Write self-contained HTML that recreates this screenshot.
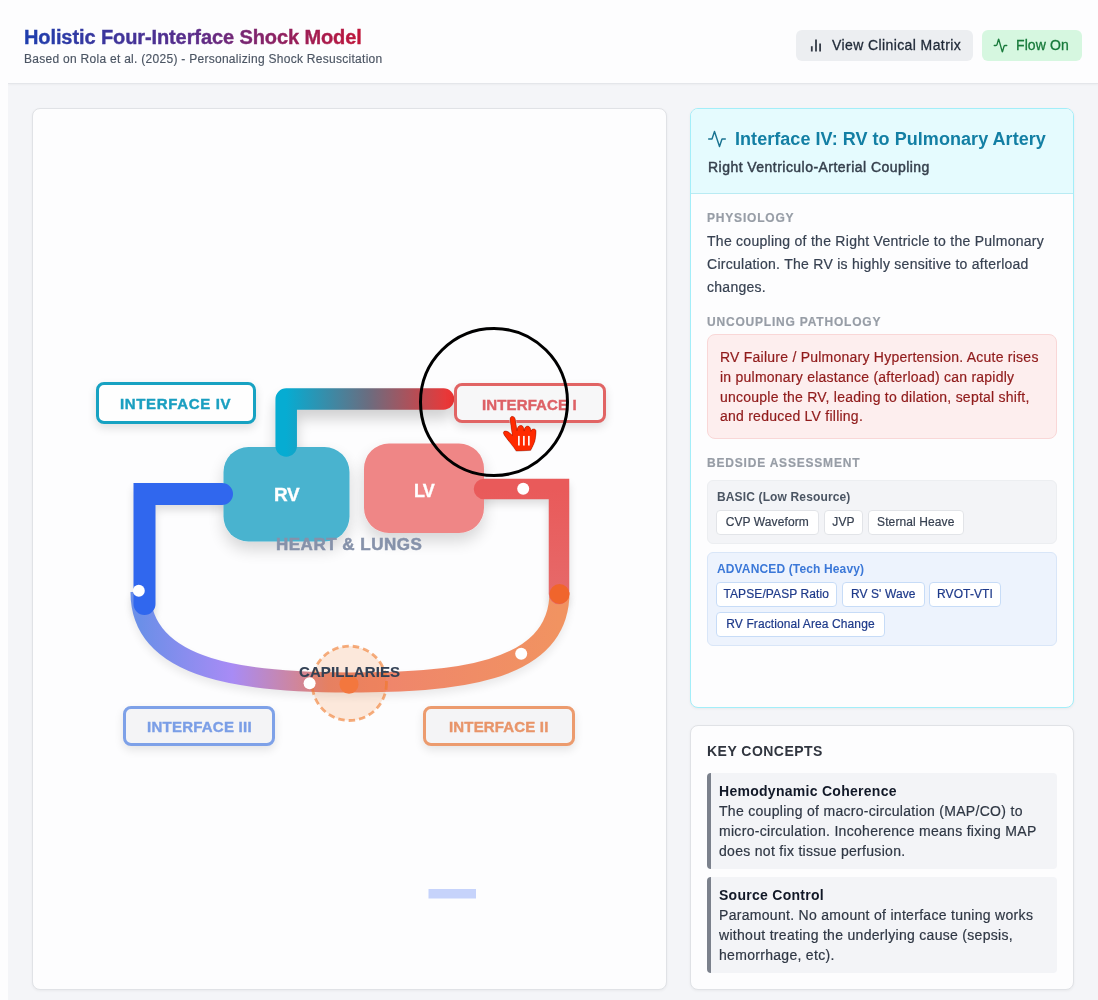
<!DOCTYPE html>
<html>
<head>
<meta charset="utf-8">
<style>
*{box-sizing:border-box;margin:0;padding:0}
html,body{width:1098px;height:1000px;overflow:hidden;background:#fdfdfe;font-family:"Liberation Sans",sans-serif;color:#374151}
.abs{position:absolute}
.t,.chip,.btn span,.title,.sub{will-change:transform}
#hdr{position:absolute;left:0;top:0;width:1098px;height:84px;background:#fdfdfe;z-index:2}
#hdrb{position:absolute;left:8px;top:83px;width:1090px;height:1px;background:#e4e6ea;box-shadow:0 1px 2px rgba(0,0,0,0.05);z-index:3}
#main{position:absolute;left:8px;top:84px;width:1090px;height:916px;background:#f4f5f8}
.title{left:24px;top:22.8px;font-size:20px;line-height:28px;font-weight:bold;white-space:nowrap;background:linear-gradient(to right,#1e3eae 0%,#5a2d8a 50%,#c0163a 100%);-webkit-background-clip:text;background-clip:text;color:transparent;letter-spacing:-0.1px;-webkit-text-stroke:0.4px transparent}
.sub{left:24px;top:50.6px;font-size:12px;line-height:16px;color:#4b5563;white-space:nowrap;letter-spacing:0.28px;-webkit-text-stroke:0.15px #4b5563}
.btn{position:absolute;top:29.5px;height:31px;border-radius:6px}
.btn span{position:absolute;top:5.2px;font-size:14px;line-height:20px;white-space:nowrap}
.card{position:absolute;background:#fdfdfe;border:1px solid #e0e2e6;border-radius:8px;box-shadow:0 1px 3px rgba(0,0,0,0.05)}
.t{position:absolute;white-space:nowrap}
.lab{font-size:12px;line-height:16px;font-weight:bold;color:#979da6;letter-spacing:0.8px;-webkit-text-stroke:0.2px #979da6}
.body14{font-size:14px;line-height:22.85px;color:#374151;letter-spacing:0.27px;-webkit-text-stroke:0.2px #374151}
.chip{position:absolute;height:25px;border:1px solid #e2e4e8;background:#fff;border-radius:4px;font-size:12px;line-height:23px;text-align:center;color:#374151;white-space:nowrap;letter-spacing:0.1px;-webkit-text-stroke:0.2px currentColor}
.chipb{border-color:#c7dcf7;color:#1e3a8a}
</style>
</head>
<body>
<div id="hdr">
  <div class="abs title">Holistic Four-Interface Shock Model</div>
  <div class="abs sub">Based on Rola et al. (2025) - Personalizing Shock Resuscitation</div>
  <div class="btn" style="left:796px;width:177px;background:#eceef1">
    <svg class="abs" style="left:13px;top:9px" width="14" height="14" viewBox="0 0 14 14"><g stroke="#353b47" stroke-width="1.8" stroke-linecap="butt"><line x1="2.8" y1="12.5" x2="2.8" y2="7.2"/><line x1="7" y1="12.5" x2="7" y2="0.6"/><line x1="11.1" y1="12.5" x2="11.1" y2="4.6"/></g></svg>
    <span style="left:36px;color:#1f2937;letter-spacing:0.4px;-webkit-text-stroke:0.3px #1f2937">View Clinical Matrix</span>
  </div>
  <div class="btn" style="left:982px;width:100px;background:#d6f7e0">
    <svg class="abs" style="left:11px;top:8px" width="15" height="15" viewBox="0 0 24 24"><path d="M22 12h-2.48a2 2 0 0 0-1.93 1.46l-2.35 8.36a.25.25 0 0 1-.48 0L9.24 2.18a.25.25 0 0 0-.48 0l-2.35 8.36A2 2 0 0 1 4.49 12H2" fill="none" stroke="#1a7a3c" stroke-width="2.2" stroke-linecap="round" stroke-linejoin="round"/></svg>
    <span style="left:34.3px;color:#177a3a;letter-spacing:0.1px;-webkit-text-stroke:0.3px #177a3a">Flow On</span>
  </div>
</div>
<div id="main"></div>
<div id="hdrb"></div>

<!-- left card -->
<div class="card" style="left:32px;top:108px;width:634.5px;height:882px"></div>

<!-- right card -->
<div class="card" style="left:690px;top:108px;width:384px;height:600px;border-color:#a3eef9;overflow:hidden">
  <div class="abs" style="left:0;top:0;width:384px;height:85px;background:#e5fbfe;border-bottom:1px solid #b9ebf3"></div>
</div>
<div id="rc">
  <svg class="abs" style="left:707px;top:129px" width="20" height="20" viewBox="0 0 24 24"><path d="M22 12h-4l-3 9L9 3l-3 9H2" fill="none" stroke="#1a7391" stroke-width="1.7" stroke-linecap="round" stroke-linejoin="round"/></svg>
  <div class="t" style="left:735px;top:125.2px;font-size:18px;line-height:28px;font-weight:bold;color:#137fa4;letter-spacing:0.05px">Interface IV: RV to Pulmonary Artery</div>
  <div class="t" style="left:707.5px;top:156.8px;font-size:14px;line-height:20px;color:#36404d;letter-spacing:0.46px;-webkit-text-stroke:0.45px #36404d">Right Ventriculo-Arterial Coupling</div>

  <div class="t lab" style="left:707px;top:209.8px">PHYSIOLOGY</div>
  <div class="t body14" style="left:707px;top:230.1px">The coupling of the Right Ventricle to the Pulmonary<br>Circulation. The RV is highly sensitive to afterload<br>changes.</div>

  <div class="t lab" style="left:707px;top:313.8px">UNCOUPLING PATHOLOGY</div>
  <div class="abs" style="left:707px;top:334px;width:350px;height:105px;background:#fdeeee;border:1px solid #f9d7d7;border-radius:8px"></div>
  <div class="t" style="left:720px;top:348px;font-size:14px;line-height:19.75px;color:#901b1b;letter-spacing:0.24px;-webkit-text-stroke:0.2px #901b1b">RV Failure / Pulmonary Hypertension. Acute rises<br>in pulmonary elastance (afterload) can rapidly<br>uncouple the RV, leading to dilation, septal shift,<br>and reduced LV filling.</div>

  <div class="t lab" style="left:707px;top:455.4px">BEDSIDE ASSESSMENT</div>
  <div class="abs" style="left:707px;top:480px;width:350px;height:64px;background:#f3f4f7;border:1px solid #eceef1;border-radius:6px"></div>
  <div class="t" style="left:716.5px;top:488.8px;font-size:12px;line-height:16px;font-weight:bold;color:#4b5563;letter-spacing:0.14px">BASIC (Low Resource)</div>
  <div class="chip" style="left:716px;top:509.5px;width:102.5px">CVP Waveform</div>
  <div class="chip" style="left:823.5px;top:509.5px;width:39px">JVP</div>
  <div class="chip" style="left:867.5px;top:509.5px;width:95.5px">Sternal Heave</div>

  <div class="abs" style="left:707px;top:552px;width:350px;height:93.5px;background:#edf3fd;border:1px solid #d9e6f8;border-radius:6px"></div>
  <div class="t" style="left:716.5px;top:561.3px;font-size:12px;line-height:16px;font-weight:bold;color:#3b78d8;letter-spacing:0.14px">ADVANCED (Tech Heavy)</div>
  <div class="chip chipb" style="left:716px;top:581.5px;width:120.5px">TAPSE/PASP Ratio</div>
  <div class="chip chipb" style="left:841.5px;top:581.5px;width:82.5px">RV S' Wave</div>
  <div class="chip chipb" style="left:928.5px;top:581.5px;width:72px">RVOT-VTI</div>
  <div class="chip chipb" style="left:716px;top:611.5px;width:169px">RV Fractional Area Change</div>
</div>

<!-- key concepts -->
<div class="card" style="left:690px;top:724.5px;width:384px;height:265px"></div>
<div id="kc">
  <div class="t" style="left:707px;top:741px;font-size:14px;line-height:20px;font-weight:bold;color:#30353f;letter-spacing:0.47px">KEY CONCEPTS</div>
  <div class="abs" style="left:707px;top:773px;width:350px;height:95.5px;background:#f3f4f7;border-left:4px solid #7b818c;border-radius:4px"></div>
  <div class="t" style="left:719px;top:781px;font-size:14px;line-height:20px;font-weight:bold;color:#111827;letter-spacing:0.28px">Hemodynamic Coherence</div>
  <div class="t" style="left:718.8px;top:800.75px;font-size:14px;line-height:20px;color:#2f3744;letter-spacing:0.3px;-webkit-text-stroke:0.2px #2f3744">The coupling of macro-circulation (MAP/CO) to<br>micro-circulation. Incoherence means fixing MAP<br>does not fix tissue perfusion.</div>
  <div class="abs" style="left:707px;top:877px;width:350px;height:95.5px;background:#f3f4f7;border-left:4px solid #7b818c;border-radius:4px"></div>
  <div class="t" style="left:719px;top:885.3px;font-size:14px;line-height:20px;font-weight:bold;color:#111827;letter-spacing:0.28px">Source Control</div>
  <div class="t" style="left:718.8px;top:905px;font-size:14px;line-height:20px;color:#2f3744;letter-spacing:0.3px;-webkit-text-stroke:0.2px #2f3744">Paramount. No amount of interface tuning works<br>without treating the underlying cause (sepsis,<br>hemorrhage, etc).</div>
</div>

<!-- DIAGRAM -->
<svg class="abs" style="left:0;top:0" width="1098" height="1000" viewBox="0 0 1098 1000">
  <defs>
    <filter id="sh" x="-30%" y="-30%" width="160%" height="180%">
      <feGaussianBlur in="SourceAlpha" stdDeviation="4"/>
      <feOffset dy="5"/>
      <feComponentTransfer><feFuncA type="linear" slope="0.13"/></feComponentTransfer>
    </filter>
    <filter id="shc" x="-30%" y="-30%" width="160%" height="180%">
      <feGaussianBlur in="SourceAlpha" stdDeviation="4"/>
      <feOffset dy="5"/>
      <feComponentTransfer><feFuncA type="linear" slope="0.08"/></feComponentTransfer>
    </filter>
    <filter id="shp" x="-30%" y="-60%" width="160%" height="220%">
      <feGaussianBlur in="SourceAlpha" stdDeviation="7"/>
      <feOffset dy="9"/>
      <feComponentTransfer><feFuncA type="linear" slope="0.18"/></feComponentTransfer>
    </filter>
    <filter id="shb" x="-40%" y="-40%" width="180%" height="200%">
      <feGaussianBlur in="SourceAlpha" stdDeviation="8"/>
      <feOffset dy="8" result="b"/>
      <feComponentTransfer><feFuncA type="linear" slope="0.16"/></feComponentTransfer>
      <feMerge><feMergeNode/><feMergeNode in="SourceGraphic"/></feMerge>
    </filter>
    <linearGradient id="gcurve" gradientUnits="userSpaceOnUse" x1="140" y1="0" x2="559" y2="0">
      <stop offset="0" stop-color="#6b8fe8"/>
      <stop offset="0.22" stop-color="#a88bf5"/>
      <stop offset="0.45" stop-color="#e3836f"/>
      <stop offset="0.6" stop-color="#ef866b"/>
      <stop offset="1" stop-color="#f19361"/>
    </linearGradient>
    <linearGradient id="gaor" gradientUnits="userSpaceOnUse" x1="0" y1="489" x2="0" y2="600">
      <stop offset="0" stop-color="#e95a5a"/>
      <stop offset="1" stop-color="#e66a6a"/>
    </linearGradient>
    <linearGradient id="gpul" gradientUnits="userSpaceOnUse" x1="286" y1="0" x2="450" y2="0">
      <stop offset="0" stop-color="#06acd2"/>
      <stop offset="0.5" stop-color="#6a6d80"/>
      <stop offset="1" stop-color="#ee3636"/>
    </linearGradient>
  </defs>

  <!-- capillaries circle -->

  <g fill="none" stroke="#000">
  <use href="#pcurve" filter="url(#shc)"/>
  <use href="#pven" filter="url(#sh)"/>
  <use href="#paor" filter="url(#sh)"/>
  <use href="#ppul" filter="url(#shp)"/>
  </g>
  <!-- boxes -->
  <rect x="223.5" y="447" width="126" height="94.5" rx="25" fill="#48b3cf" filter="url(#shb)"/>
  <rect x="364" y="443.5" width="120" height="89.5" rx="25" fill="#ef8686" filter="url(#shb)"/>

  <g id="paths" fill="none">
  <path id="pcurve" d="M140.5 592 C140.5 672.8 251.8 682.4 349.5 682.4 C449 682.4 559.5 675.5 559.5 592" stroke="url(#gcurve)" stroke-width="20"/>
  <path id="pven" d="M222 494 L144.5 494 L144.5 604" stroke="#3067ee" stroke-width="22" stroke-linecap="round" stroke-linejoin="miter"/>
  <path id="paor" d="M484 489 L559 489 L559 594" stroke="url(#gaor)" stroke-width="20.5" stroke-linecap="round" stroke-linejoin="miter"/>
  <path id="ppul" d="M286.2 446 L286.2 399 L443.5 399" stroke="url(#gpul)" stroke-width="21.5" stroke-linecap="round" stroke-linejoin="round"/>
  </g>

  <circle cx="349.3" cy="683.3" r="37.2" fill="rgba(249,115,22,0.15)" stroke="rgba(240,120,40,0.6)" stroke-width="2.8" stroke-dasharray="6.5 4"/>
  <!-- dots -->
  <circle cx="559.5" cy="594" r="10" fill="#f0652c"/>
  <circle cx="349" cy="684.2" r="9.5" fill="#f3773e"/>
  <circle cx="138.8" cy="590.7" r="6" fill="#fff"/>
  <circle cx="523.2" cy="488.7" r="6" fill="#fff"/>
  <circle cx="309.6" cy="683.3" r="6" fill="#fff"/>
  <circle cx="521.2" cy="653.8" r="6" fill="#fff"/>

  <!-- small bar -->
  <rect x="428.5" y="889" width="47.5" height="9.5" fill="#c6d3fb"/>
</svg>

<div class="t" style="left:276px;top:534.7px;font-size:17px;line-height:20px;font-weight:bold;color:#8692aa;letter-spacing:0.5px;-webkit-text-stroke:0.5px #8692aa">HEART &amp; LUNGS</div>
<div class="t" style="left:298.5px;top:662.2px;font-size:15px;line-height:20px;font-weight:bold;color:#334155;letter-spacing:0.1px;-webkit-text-stroke:0.15px #334155">CAPILLARIES</div>
<div class="t" style="left:274px;top:482.4px;font-size:19px;line-height:26px;font-weight:bold;color:#fff;letter-spacing:-0.5px;-webkit-text-stroke:0.3px #fff">RV</div>
<div class="t" style="left:413.5px;top:477.8px;font-size:18px;line-height:26px;font-weight:bold;color:#fff;letter-spacing:-0.8px;-webkit-text-stroke:0.3px #fff">LV</div>

<!-- interface labels -->
<div class="abs" style="left:96px;top:382px;width:160px;height:42px;border:3px solid #17a2c2;border-radius:8px;background:#fefefe;box-shadow:0 4px 10px rgba(0,0,0,0.12)"></div>
<div class="t" style="left:120.3px;top:394.2px;font-size:15px;line-height:20px;font-weight:bold;color:#1a9fc0;letter-spacing:0.65px;-webkit-text-stroke:0.4px #1a9fc0">INTERFACE IV</div>

<div class="abs" style="left:453.5px;top:383px;width:152px;height:40px;border:3px solid #e16464;border-radius:8px;background:#f7f7f8;box-shadow:0 4px 10px rgba(0,0,0,0.12)"></div>
<div class="t" style="left:481.7px;top:394.8px;font-size:15px;line-height:20px;font-weight:bold;color:#dd6166;letter-spacing:0.13px;-webkit-text-stroke:0.4px #dd6166">INTERFACE I</div>

<div class="abs" style="left:123px;top:705.5px;width:152px;height:40px;border:3px solid #7ea1e8;border-radius:8px;background:#f4f4f6;box-shadow:0 4px 10px rgba(0,0,0,0.10)"></div>
<div class="t" style="left:146.7px;top:717.1px;font-size:15px;line-height:20px;font-weight:bold;color:#7b9ee6;letter-spacing:0.24px;-webkit-text-stroke:0.4px #7b9ee6">INTERFACE III</div>

<div class="abs" style="left:423px;top:705.5px;width:152px;height:40px;border:3px solid #ec9b6e;border-radius:8px;background:#f4f4f6;box-shadow:0 4px 10px rgba(0,0,0,0.10)"></div>
<div class="t" style="left:449px;top:717.1px;font-size:15px;line-height:20px;font-weight:bold;color:#e8956a;letter-spacing:0.17px;-webkit-text-stroke:0.4px #e8956a">INTERFACE II</div>

<!-- annotation -->
<svg class="abs" style="left:0;top:0" width="1098" height="1000" viewBox="0 0 1098 1000">
  <circle cx="494" cy="402" r="73.5" fill="none" stroke="#000" stroke-width="3"/>
  <defs>
    <filter id="csh" x="-50%" y="-50%" width="200%" height="200%">
      <feGaussianBlur in="SourceAlpha" stdDeviation="1.5"/>
      <feOffset dx="0.5" dy="1.5"/>
      <feComponentTransfer><feFuncA type="linear" slope="0.35"/></feComponentTransfer>
      <feMerge><feMergeNode/><feMergeNode in="SourceGraphic"/></feMerge>
    </filter>
  </defs>
  <g transform="translate(498 410) scale(0.048)" filter="url(#csh)">
    <path d="M290 135 C330 130 355 160 360 200 L395 430 C400 355 435 322 475 322 C515 322 535 350 545 440 C550 360 585 335 620 337 C660 340 680 370 685 445 C695 405 725 390 755 395 C790 405 795 440 790 480 L775 610 C760 690 720 760 680 840 L380 855 C330 770 230 660 130 520 C100 470 120 440 150 440 C200 440 240 470 300 530 L255 220 C250 175 260 140 290 135 Z" fill="#ff2a00" stroke="#fff" stroke-width="28" paint-order="stroke" stroke-linejoin="round"/>
    <path d="M290 135 C330 130 355 160 360 200 L395 430 C400 355 435 322 475 322 C515 322 535 350 545 440 C550 360 585 335 620 337 C660 340 680 370 685 445 C695 405 725 390 755 395 C790 405 795 440 790 480 L775 610 C760 690 720 760 680 840 L380 855 C330 770 230 660 130 520 C100 470 120 440 150 440 C200 440 240 470 300 530 L255 220 C250 175 260 140 290 135 Z" fill="#ff2a00" stroke="#7a1000" stroke-width="8" stroke-linejoin="round"/>
    <rect x="418" y="540" width="34" height="200" fill="#fff"/>
    <rect x="522" y="540" width="34" height="200" fill="#fff"/>
    <rect x="626" y="540" width="34" height="200" fill="#fff"/>
  </g>
</svg>
</body>
</html>
